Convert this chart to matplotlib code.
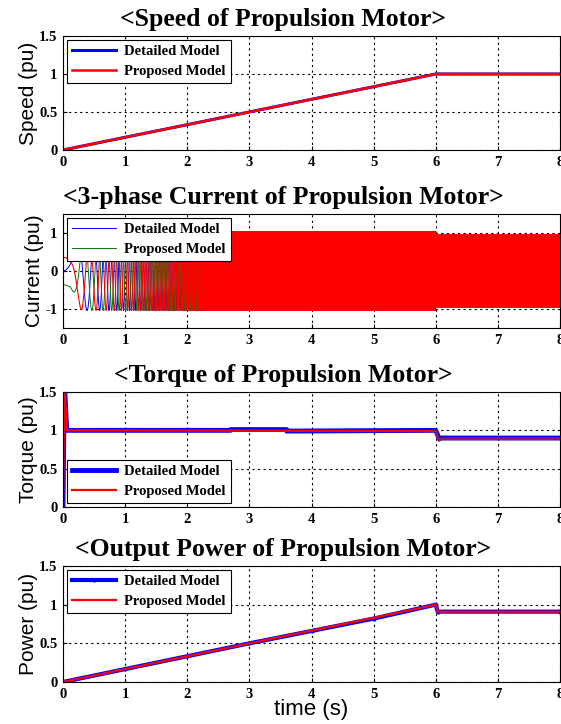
import numpy as np
import matplotlib
matplotlib.use('Agg')
import matplotlib.pyplot as plt

# ---- data ----
x_ticks = [0, 1, 2, 3, 4, 5, 6, 7, 8]
y_ticks = [0, 0.5, 1, 1.5]
y_tick_labels = ['0', '0.5', '1', '1.5']
cur_ticks = [-1, 0, 1]
cur_tick_labels = ['-1', '0', '1']

# speed (pu)
speed_t = [0, 1, 2, 3, 4, 5, 6, 8]
speed_detailed = [0, 0.167, 0.333, 0.5, 0.667, 0.833, 1.0, 1.0]
speed_proposed = [0, 0.167, 0.333, 0.5, 0.667, 0.833, 1.0, 1.0]

# torque (pu)
torque_t_det = [0, 0.02, 0.03, 0.06, 2.7, 2.7, 3.6, 3.6, 6.0, 6.05, 8]
torque_det = [0, 1.5, 1.5, 1.0, 1.0, 1.01, 1.01, 0.99, 1.0, 0.9, 0.9]
torque_t_prop = [0, 0.02, 0.03, 0.06, 6.0, 6.05, 6.1, 8]
torque_prop = [0, 1.5, 1.5, 1.0, 0.99, 0.87, 0.89, 0.89]

# output power (pu)
power_t = [0, 1, 2, 3, 4, 5, 6, 6.03, 8]
power_det = [0, 0.167, 0.333, 0.5, 0.66, 0.82, 1.0, 0.91, 0.91]
power_prop = [0, 0.167, 0.333, 0.5, 0.665, 0.83, 1.0, 0.91, 0.91]

# 3-phase current: amplitude before / after 6 s, electrical freq at rated speed
cur_amp_before = 1.04
cur_amp_after = 0.95
f_rated = 60.0

serif = 'Liberation Serif'
sans = 'Liberation Sans'

fig = plt.figure(figsize=(5.61, 7.24), dpi=100)

positions = [
    [63 / 561, 1 - 150 / 724, 497 / 561, 114 / 724],
    [63 / 561, 1 - 328 / 724, 497 / 561, 114 / 724],
    [63 / 561, 1 - 507 / 724, 497 / 561, 115 / 724],
    [63 / 561, 1 - 682 / 724, 497 / 561, 116 / 724],
]
titles = ['<Speed of Propulsion Motor>',
          '<3-phase Current of Propulsion Motor>',
          '<Torque of Propulsion Motor>',
          '<Output Power of Propulsion Motor>']
ylabels = ['Speed (pu)', 'Current (pu)', 'Torque (pu)', 'Power (pu)']

axes = [fig.add_axes(p) for p in positions]

# speed
ax = axes[0]
ax.plot(speed_t, speed_detailed, color='blue', lw=2.2, label='Detailed Model')
ax.plot(speed_t, speed_proposed, color='red', lw=1.8, label='Proposed Model')

# current
ax = axes[1]
t = np.linspace(0, 8, 40000)
spd = np.interp(t, speed_t, speed_proposed)
theta = 2 * np.pi * f_rated * np.cumsum(spd) * (t[1] - t[0])
amp = np.where(t < 6, cur_amp_before, cur_amp_after)
amp = np.where(t < 0.35, np.clip(spd * 20, 0.4, 1.0) * amp, amp)
ia = amp * np.sin(theta)
ib = amp * np.sin(theta - 2 * np.pi / 3)
ic = amp * np.sin(theta + 2 * np.pi / 3)
ax.plot(t, ia, color='blue', lw=0.7, label='Detailed Model')
ax.plot(t, ib, color='green', lw=0.7, label='Proposed Model')
ax.plot(t, ic, color='red', lw=0.8)
ax.plot(t[t > 1.2], ia[t > 1.2], color='red', lw=0.5, alpha=0.8)
ax.plot(t[t > 1.9], ia[t > 1.9], color='red', lw=0.6)
ax.plot(t[t > 2.2], ib[t > 2.2], color='red', lw=0.6)

# torque
ax = axes[2]
ax.plot(torque_t_det, torque_det, color='blue', lw=3.5, label='Detailed Model')
ax.plot(torque_t_prop, torque_prop, color='red', lw=1.6, label='Proposed Model')
ax.plot(torque_t_prop[4:], torque_prop[4:], color='#8b1a6b', lw=2.0)

# power
ax = axes[3]
ax.plot(power_t, power_det, color='blue', lw=3.0, marker='.', markevery=0.02,
        ms=4, label='Detailed Model')
ax.plot(power_t, power_prop, color='red', lw=1.6, label='Proposed Model')

for i, ax in enumerate(axes):
    ax.set_xlim(0, 8)
    ax.set_xticks(x_ticks)
    ax.set_xticklabels([str(v) for v in x_ticks], fontfamily=serif,
                       fontweight='bold', fontsize=10.5)
    if i == 1:
        ax.set_ylim(-1.5, 1.5)
        ax.set_yticks(cur_ticks)
        ax.set_yticklabels(cur_tick_labels, fontfamily=serif,
                           fontweight='bold', fontsize=10.5)
    else:
        ax.set_ylim(0, 1.5)
        ax.set_yticks(y_ticks)
        ax.set_yticklabels(y_tick_labels, fontfamily=serif,
                           fontweight='bold', fontsize=10.5)
    ax.grid(True, color='black', linestyle=(0, (2, 3)), lw=0.8)
    ax.tick_params(direction='in', length=3, pad=4)
    # titles sit centred on the figure, not on the axes
    ax.set_title(titles[i], fontfamily=serif, fontweight='bold', fontsize=18.5,
                 pad=7, x=(283 - 63) / 497)
    ax.set_ylabel(ylabels[i], fontfamily=sans, fontsize=15, labelpad=1)
    for s in ax.spines.values():
        s.set_linewidth(0.8)
    loc = 'lower left' if i == 2 else 'upper left'
    leg = ax.legend(loc=loc, prop={'family': serif, 'weight': 'bold', 'size': 10.5},
                    fancybox=False, edgecolor='black', framealpha=1,
                    borderaxespad=0.25, handlelength=3.0, labelspacing=0.45,
                    borderpad=0.35, handletextpad=0.6)
    leg.get_frame().set_linewidth(0.8)

axes[3].set_xlabel('time (s)', fontfamily=sans, fontsize=16, labelpad=-1)

fig.savefig('out.png', dpi=100)
